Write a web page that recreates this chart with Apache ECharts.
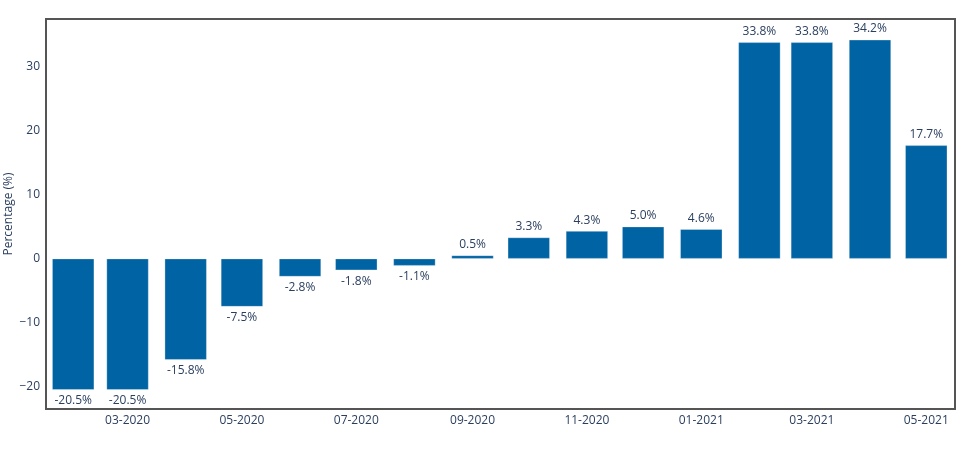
<!DOCTYPE html>
<html>
<head>
<meta charset="utf-8">
<script src="https://cdn.jsdelivr.net/npm/echarts@6/dist/echarts.min.js"></script>
<style>html,body{margin:0;padding:0;background:#fff}#c{width:970px;height:466px}</style>
</head>
<body>
<div id="c"></div>
<script>
const months = ['2020-02-01','2020-03-01','2020-04-01','2020-05-01','2020-06-01','2020-07-01','2020-08-01','2020-09-01','2020-10-01','2020-11-01','2020-12-01','2021-01-01','2021-02-01','2021-03-01','2021-04-01','2021-05-01'];
const values = [-20.5,-20.5,-15.8,-7.5,-2.8,-1.8,-1.1,0.5,3.3,4.3,5.0,4.6,33.8,33.8,34.2,17.7];
const xTicks = ['2020-03-01','2020-05-01','2020-07-01','2020-09-01','2020-11-01','2021-01-01','2021-03-01','2021-05-01'];
const yTicks = [-20,-10,0,10,20,30];

const ts = s => new Date(s + 'T00:00:00Z').getTime();
const font = '"Open Sans", "Noto Sans", sans-serif';
const txt = '#2a3f5f';

const chart = echarts.init(document.getElementById('c'), null, {renderer:'canvas'});
chart.setOption({
  animation:false,
  grid:{left:46,right:15,top:19,bottom:57,containLabel:false,outerBoundsMode:'none',
    show:true,borderColor:'#555',borderWidth:2,backgroundColor:'transparent'},
  xAxis:{
    type:'value',
    min: ts('2020-01-17') + 12*3600e3,
    max: ts('2021-05-16') + 8*3600e3,
    axisLine:{show:false},axisTick:{show:false},splitLine:{show:false},
    axisLabel:{
      customValues: xTicks.map(ts),
      color:txt,fontFamily:font,fontSize:12,margin:6,
      formatter: v => { const d=new Date(v); const m=d.getUTCMonth()+1; return (m<10?'0':'')+m+'-'+d.getUTCFullYear(); }
    }
  },
  yAxis:{
    type:'value',min:-23.5,max:37.45,
    name:'Percentage (%)',nameLocation:'middle',nameGap:31,nameMoveOverlap:false,
    nameTextStyle:{color:txt,fontFamily:font,fontSize:12},
    axisLine:{show:false},axisTick:{show:false},splitLine:{show:false},
    axisLabel:{customValues:yTicks,color:txt,fontFamily:font,fontSize:12,margin:6,
      formatter: v => String(v).replace('-','\u2212')}
  },
  series:[{
    type:'bar',barWidth:42,
    itemStyle:{color:'#0063a3',borderColor:'rgba(255,255,255,0.6)',borderWidth:0.5},
    label:{show:true,color:txt,fontFamily:font,fontSize:12,distance:5,
      formatter: p => p.value[1].toFixed(1)+'%'},
    data: months.map((m,i)=>({value:[ts(m),values[i]],label:{position: values[i]<0?'bottom':'top'}}))
  }]
});
</script>
</body>
</html>
